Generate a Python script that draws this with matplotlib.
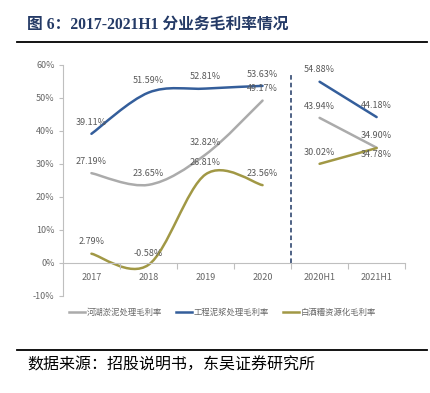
import matplotlib
matplotlib.use('Agg')
import matplotlib.pyplot as plt
from matplotlib.path import Path
from matplotlib.patches import PathPatch

plt.rcParams['font.family'] = ['Noto Sans CJK SC', 'DejaVu Sans']

years = ['2017', '2018', '2019', '2020']
halves = ['2020H1', '2021H1']

names = ['河湖淤泥处理毛利率', '工程泥浆处理毛利率', '白酒糟资源化毛利率']
colors = ['#ABABAB', '#345E9B', '#A19845']

river_year = [27.19, 23.65, 32.82, 49.17]
river_half = [43.94, 34.90]
slurry_year = [39.11, 51.59, 52.81, 53.63]
slurry_half = [54.88, 44.18]
grain_year = [2.79, -0.58, 26.81, 23.56]
grain_half = [30.02, 34.78]

yticks = [-10, 0, 10, 20, 30, 40, 50, 60]


def smooth_path(xs, ys):
    # excel style smoothed line: cubic bezier through every point
    pts = list(zip(xs, ys))
    verts = [pts[0]]
    codes = [Path.MOVETO]
    n = len(pts)
    for i in range(n - 1):
        p0 = pts[max(i - 1, 0)]
        p1 = pts[i]
        p2 = pts[i + 1]
        p3 = pts[min(i + 2, n - 1)]
        c1 = (p1[0] + (p2[0] - p0[0]) / 6, p1[1] + (p2[1] - p0[1]) / 6)
        c2 = (p2[0] - (p3[0] - p1[0]) / 6, p2[1] - (p3[1] - p1[1]) / 6)
        verts += [c1, c2, p2]
        codes += [Path.CURVE4] * 3
    return Path(verts, codes)


fig = plt.figure(figsize=(4.31, 3.93), dpi=100)
ax = fig.add_axes([0.146, 0.247, 0.794, 0.588])

cats = years + halves
xy = list(range(len(years)))
xh = [len(years) + i for i in range(len(halves))]

series = [(river_year, river_half), (slurry_year, slurry_half), (grain_year, grain_half)]
for (yv, hv), c, name in zip(series, colors, names):
    ax.add_patch(PathPatch(smooth_path(xy, yv), fill=False, edgecolor=c, lw=1.8, capstyle='round'))
    ax.plot(xh, hv, color=c, lw=1.8, solid_capstyle='round')
    ax.plot([], [], color=c, lw=1.8, label=name)

lab = dict(ha='center', va='center', fontsize=6.5, color='#595959', textcoords='offset points')
for yv, hv in series:
    for x, v in zip(xy + xh, yv + hv):
        dy = 8.5
        if v == grain_half[-1]:
            dy = -4.5
        ax.annotate(f'{v:.2f}%', (x, v), xytext=(0, dy), **lab)

ax.vlines(len(years) - 0.5, 0, 57, colors='#1F3864', linestyles=(0, (3, 2)), lw=1.1)

ax.set_xlim(-0.5, len(cats) - 0.5)
ax.set_ylim(-10, 60)
ax.set_yticks(yticks)
ax.set_yticklabels([f'{t}%' for t in yticks])
ax.set_xticks(range(len(cats)))
ax.set_xticklabels(cats)
ax.set_xticks([i - 0.5 for i in range(1, len(cats) + 1)], minor=True)

for s in ['top', 'right']:
    ax.spines[s].set_visible(False)
ax.spines['bottom'].set_position(('data', 0))
ax.spines['bottom'].set_color('#BFBFBF')
ax.spines['left'].set_color('#BFBFBF')
ax.tick_params(axis='y', colors='#BFBFBF', labelcolor='#666666', labelsize=6.5, length=3, width=0.8, pad=3)
ax.tick_params(axis='x', which='major', length=0, labelcolor='#666666', labelsize=6.5, pad=7)
ax.tick_params(axis='x', which='minor', length=4, color='#BFBFBF', width=0.8)

fig.legend(loc='center', bbox_to_anchor=(0.516, 0.204), ncol=3, frameon=False,
           fontsize=6, labelcolor='#666666', handlelength=2.0, handletextpad=0.2, columnspacing=1.6)

fig.text(27 / 431, 1 - 25 / 393, '图 6：2017-2021H1 分业务毛利率情况', fontsize=11.3, fontweight='bold',
         color='#243A66', va='center', ha='left', family=['Liberation Serif', 'Noto Sans CJK SC'])
fig.add_artist(plt.Line2D([17 / 431, 427 / 431], [1 - 42 / 393, 1 - 42 / 393], color='black', lw=1.3))
fig.add_artist(plt.Line2D([17 / 431, 427 / 431], [1 - 350 / 393, 1 - 350 / 393], color='black', lw=1.3))
fig.text(27 / 431, 1 - 365 / 393, '数据来源：招股说明书，东吴证券研究所', fontsize=11.5,
         color='black', va='center', ha='left')

fig.savefig('out.png', dpi=100)
